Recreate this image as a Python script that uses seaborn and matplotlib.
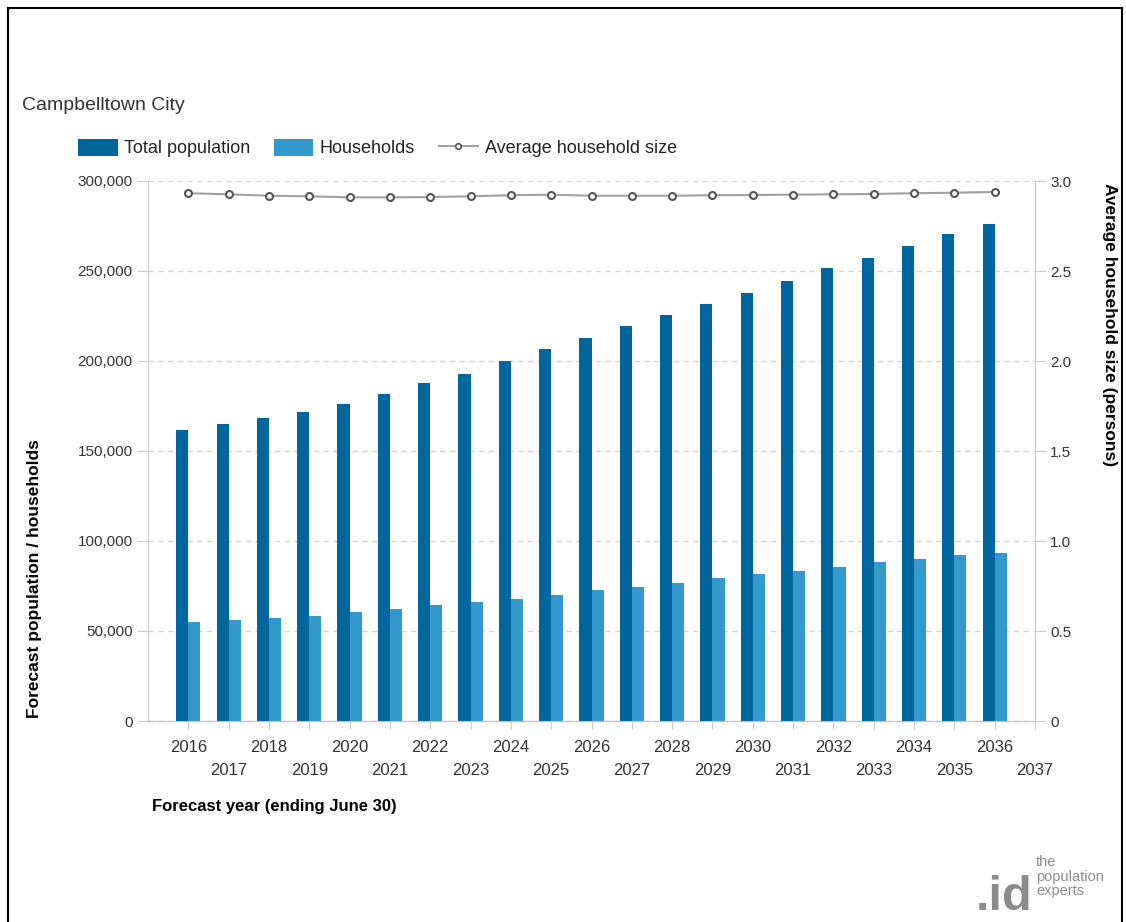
import numpy as np
import pandas as pd
import matplotlib
matplotlib.use("Agg")
import matplotlib.pyplot as plt
from matplotlib.patches import Patch
from matplotlib.lines import Line2D
import seaborn as sns

# --- data ---
years = list(range(2016, 2037))
tick_years = list(range(2016, 2038))
total_population = [161700, 164800, 168200, 171700, 176000, 181700, 187800,
                    193000, 200000, 206700, 212800, 219400, 225600, 231700,
                    237800, 244400, 251700, 257200, 263900, 270600, 276200]
households = [54800, 56100, 57000, 58300, 60500, 62200, 64400, 66100, 67800,
              70000, 72800, 74400, 76700, 79400, 81700, 83300, 85600, 88300,
              90000, 92000, 93600]
avg_household_size = [2.932, 2.926, 2.918, 2.915, 2.909, 2.909, 2.911, 2.915,
                      2.921, 2.924, 2.918, 2.918, 2.918, 2.921, 2.922, 2.924,
                      2.926, 2.928, 2.932, 2.935, 2.939]
left_ticks = [0, 50000, 100000, 150000, 200000, 250000, 300000]
right_ticks = [0, 0.5, 1.0, 1.5, 2.0, 2.5, 3.0]

series_names = ["Total population", "Households"]
colors = {"Total population": "#00669e", "Households": "#3399cc"}

bars_df = pd.DataFrame({
    "year": years * 2,
    "value": total_population + households,
    "series": [series_names[0]] * len(years) + [series_names[1]] * len(years),
})
line_df = pd.DataFrame({"year": years, "size": avg_household_size})

plt.rcParams["font.family"] = ["Liberation Sans", "DejaVu Sans"]

W, H = 1126, 922
fig = plt.figure(figsize=(W / 100, H / 100), dpi=100)
ax = fig.add_axes([148 / W, 1 - 721 / H, (1035 - 148) / W, (721 - 181) / H])

sns.barplot(data=bars_df, x="year", y="value", hue="series", hue_order=series_names,
            palette=colors, native_scale=True, width=0.6, gap=0, saturation=1,
            dodge=True, legend=False, ax=ax)

ax.set_xlim(2015, 2037)
ax.set_ylim(0, 300000)
ax.set_axisbelow(True)
ax.set_yticks(left_ticks)
ax.set_yticklabels(["0" if v == 0 else f"{v:,}" for v in left_ticks])
ax.yaxis.grid(True, color="#d4d4d4", linestyle=(0, (4, 3)), linewidth=1)
ax.xaxis.grid(False)
ax.set_xticks(tick_years)
ax.set_xticklabels([str(y) if (y - 2016) % 2 == 0 else "\n" + str(y) for y in tick_years])
for lab in ax.get_xticklabels():
    lab.set_linespacing(1.65)
ax.set_xlabel("")
ax.set_ylabel("")

ax.spines["top"].set_visible(False)
ax.spines["left"].set_color("#cccccc")
ax.spines["right"].set_color("#cccccc")
ax.spines["bottom"].set_color("#c0c0c0")
ax.tick_params(axis="y", length=8, color="#cccccc", labelsize=11, labelcolor="#333333", pad=3)
ax.tick_params(axis="x", length=6, color="#cccccc", labelsize=12, labelcolor="#333333", pad=8)

ax2 = ax.twinx()
sns.lineplot(data=line_df, x="year", y="size", color="#a0a0a0", linewidth=1.5,
             marker="o", markersize=5, markerfacecolor="white",
             markeredgecolor="#555555", markeredgewidth=1.5, ax=ax2)
ax2.set_ylim(0, 3.0)
ax2.set_yticks(right_ticks)
ax2.set_yticklabels(["0" if v == 0 else f"{v:.1f}" for v in right_ticks])
ax2.set_ylabel("")
ax2.set_xlabel("")
for side in ["top", "left", "bottom"]:
    ax2.spines[side].set_visible(False)
ax2.spines["right"].set_color("#cccccc")
ax2.tick_params(axis="y", length=8, color="#cccccc", labelsize=11, labelcolor="#333333", pad=3)

# titles and axis labels
fig.text(22 / W, 1 - 105 / H, "Campbelltown City", fontsize=14, color="#333333",
         ha="left", va="center")
fig.text(35 / W, 1 - 718 / H, "Forecast population / households", rotation=90,
         fontsize=12.5, fontweight="bold", ha="center", va="bottom")
fig.text(1110 / W, 1 - 183 / H, "Average household size (persons)", rotation=270,
         fontsize=12.5, fontweight="bold", ha="center", va="top")
fig.text(152 / W, 1 - 806 / H, "Forecast year (ending June 30)", fontsize=12,
         fontweight="bold", ha="left", va="center")

# legend
handles = [
    Patch(facecolor=colors["Total population"], edgecolor="none"),
    Patch(facecolor=colors["Households"], edgecolor="none"),
    Line2D([0], [0], color="#a0a0a0", linewidth=1.5, marker="o", markersize=4,
           markerfacecolor="white", markeredgecolor="#555555", markeredgewidth=1.2),
]
fig.legend(handles, ["Total population", "Households", "Average household size"],
           loc="center left", bbox_to_anchor=(78 / W, 1 - 148 / H), ncol=3,
           frameon=False, fontsize=13, handlelength=2.2, handleheight=1.1,
           handletextpad=0.35, columnspacing=1.3, borderpad=0, borderaxespad=0,
           labelcolor="#222222")

# logo
fig.text(976 / W, 1 - 910 / H, ".id", fontsize=35, fontweight="bold",
         color="#8c8c8c", ha="left", va="baseline")
fig.text(1036 / W, 1 - 855 / H, "the\npopulation\nexperts", fontsize=10.5,
         color="#8c8c8c", ha="left", va="top", linespacing=1.05)

# image frame
frame = dict(color="black", linewidth=1.5, transform=fig.transFigure)
fig.add_artist(Line2D([8 / W, 8 / W], [0, 1 - 8 / H], **frame))
fig.add_artist(Line2D([8 / W, 1122 / W], [1 - 8 / H, 1 - 8 / H], **frame))
fig.add_artist(Line2D([1122 / W, 1122 / W], [0, 1 - 8 / H], **frame))

fig.savefig("out.png", dpi=100)
